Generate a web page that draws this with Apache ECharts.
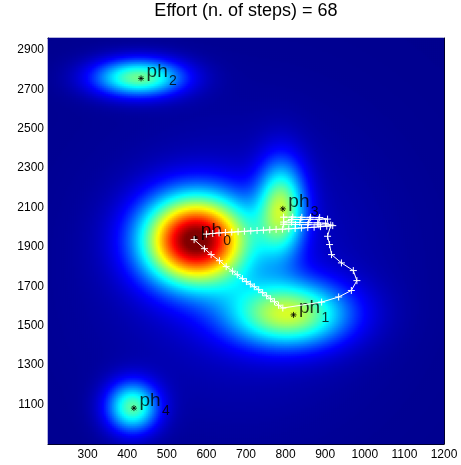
<!DOCTYPE html>
<html>
<head>
<meta charset="UTF-8">
<title>Effort</title>
<style>
body{margin:0;background:#fff;}
#picContainer{width:461px;height:465px;}
</style>
</head>
<body>
<div id="picContainer"></div>
<script src="https://cdn.jsdelivr.net/npm/echarts@6/dist/echarts.min.js"></script>
<script>
// source positions (the * markers)
var phNames = ['0', '1', '2', '3', '4'];
var phX = [572, 820, 435, 793, 417];
var phY = [1945, 1555, 2755, 2093, 1082];

// intensity bumps (centre, peak level, spread)
// the last one is the faint wide glow under the middle of the map
var peakX = [573, 808, 430, 790, 414, 683];
var peakY = [1935, 1560, 2760, 2100, 1088, 1785];
var peakLevel = [0.97, 0.52, 0.48, 0.48, 0.45, 0.08];
var spreadX = [93, 106, 80, 42, 46, 228];
var spreadY = [158, 116, 66, 165, 90, 458];

// walked path, one point per step
var pathX = [600, 616, 632, 648, 664, 680, 696, 712, 728, 744, 760, 776, 792, 808, 824, 840, 856, 872, 888, 904, 919,
    901, 881, 858, 836, 815, 795,
    815, 838, 861, 884, 906,
    886, 863, 841, 818, 795,
    795, 825, 856, 884, 914,
    906, 911, 916, 941, 971, 980, 966, 934, 891,
    793, 782, 772, 762, 752, 742, 732, 721, 711, 701, 691, 678, 666, 650, 633, 612, 595, 569];
var pathY = [1965, 1968, 1971, 1973, 1975, 1977, 1979, 1981, 1983, 1985, 1987, 1989, 1990, 1992, 1994, 1996, 1998, 2000, 2003, 2005, 2008,
    2020, 2022, 2023, 2024, 2025, 2026,
    2039, 2039, 2040, 2040, 2041,
    2049, 2050, 2050, 2051, 2051,
    2015, 2014, 2013, 2012, 2011,
    1954, 1912, 1861, 1819, 1780, 1729, 1679, 1646, 1620,
    1590, 1604, 1622, 1637, 1652, 1668, 1683, 1698, 1711, 1724, 1739, 1759, 1777, 1800, 1830, 1861, 1891, 1937];

var xTicks = [300, 400, 500, 600, 700, 800, 900, 1000, 1100, 1200];
var yTicks = [1100, 1300, 1500, 1700, 1900, 2100, 2300, 2500, 2700, 2900];
var xRange = [200, 1200];
var yRange = [900, 2960];

main();

function main(){
    drawPic();
}

function field(x, y){
    var v = 0;
    for (var k = 0; k < peakX.length; k++) {
        var dx = (x - peakX[k]) / spreadX[k];
        var dy = (y - peakY[k]) / spreadY[k];
        v += peakLevel[k] * Math.exp(-0.5 * (dx * dx + dy * dy));
    }
    return v;
}

function drawPic(){
    // 2px cells so the heatmap has no seams
    var nx = 198, ny = 203;
    var xCells = [], yCells = [], heat = [];
    for (var i = 0; i < nx; i++) xCells.push(i);
    for (var j = 0; j < ny; j++) yCells.push(j);
    for (var i = 0; i < nx; i++) {
        var x = xRange[0] + (i + 0.5) * (xRange[1] - xRange[0]) / nx;
        for (var j = 0; j < ny; j++) {
            var y = yRange[0] + (j + 0.5) * (yRange[1] - yRange[0]) / ny;
            heat.push([i, j, field(x, y)]);
        }
    }

    var path = [];
    for (var i = 0; i < pathX.length; i++) path.push([pathX[i], pathY[i]]);
    var stars = [];
    for (var i = 0; i < phX.length; i++) stars.push({name: phNames[i], value: [phX[i], phY[i]]});

    var font = 'Liberation Sans, Arial, Helvetica, sans-serif';
    var gridBox = {left: 48, top: 38, width: 396, height: 406};
    var tick = {show: true, inside: true, length: 4, lineStyle: {color: '#000', width: 1}};
    var line = {show: true, onZero: false, lineStyle: {color: '#000', width: 1}};
    var plain = function (v) { return String(v); };

    var myChart = echarts.init(document.getElementById('picContainer'));
    var option = {
        animation: false,
        backgroundColor: '#fff',
        title: {
            text: 'Effort (n. of steps) = ' + (pathX.length - 1),
            left: 246,
            top: 2,
            padding: 0,
            textAlign: 'center',
            textStyle: {fontFamily: font, fontSize: 18, fontWeight: 'normal', color: '#000'}
        },
        grid: [
            Object.assign({}, gridBox),
            Object.assign({}, gridBox)
        ],
        xAxis: [
            {gridIndex: 0, type: 'category', data: xCells, show: false},
            {gridIndex: 1, type: 'value', min: xRange[0], max: xRange[1], position: 'bottom',
                axisLine: line, splitLine: {show: false},
                axisTick: Object.assign({customValues: xTicks}, tick),
                axisLabel: {customValues: xTicks, formatter: plain, margin: 5, fontFamily: font, fontSize: 12, color: '#000'}},
            {gridIndex: 1, type: 'value', min: xRange[0], max: xRange[1], position: 'top',
                axisLine: line, splitLine: {show: false},
                axisTick: Object.assign({customValues: xTicks}, tick),
                axisLabel: {show: false}}
        ],
        yAxis: [
            {gridIndex: 0, type: 'category', data: yCells, show: false},
            {gridIndex: 1, type: 'value', min: yRange[0], max: yRange[1], position: 'left',
                axisLine: line, splitLine: {show: false},
                axisTick: Object.assign({customValues: yTicks}, tick),
                axisLabel: {customValues: yTicks, formatter: plain, margin: 4, fontFamily: font, fontSize: 12, color: '#000'}},
            {gridIndex: 1, type: 'value', min: yRange[0], max: yRange[1], position: 'right',
                axisLine: line, splitLine: {show: false},
                axisTick: Object.assign({customValues: yTicks}, tick),
                axisLabel: {show: false}}
        ],
        visualMap: {
            show: false,
            seriesIndex: 0,
            dimension: 2,
            min: 0,
            max: 1,
            inRange: {
                color: ['#00008f', '#0000ff', '#0080ff', '#00ffff', '#80ff80',
                        '#ffff00', '#ff8000', '#ff0000', '#800000']
            }
        },
        series: [
            {
                type: 'heatmap',
                xAxisIndex: 0,
                yAxisIndex: 0,
                data: heat,
                progressive: 0,
                silent: true,
                z: 1
            },
            {
                // stars with the "ph" part of the label
                type: 'scatter',
                xAxisIndex: 1,
                yAxisIndex: 1,
                data: stars,
                symbol: 'path://M5 0L5 10M0 5L10 5M1.5 1.5L8.5 8.5M8.5 1.5L1.5 8.5',
                symbolSize: 6,
                itemStyle: {color: 'rgba(0,0,0,0)', borderColor: '#000', borderWidth: 1},
                label: {
                    show: true,
                    position: 'right',
                    distance: 2,
                    offset: [0, -7],
                    formatter: 'ph',
                    fontFamily: font,
                    fontSize: 19,
                    color: '#000'
                },
                silent: true,
                z: 2
            },
            {
                // subscripts
                type: 'scatter',
                xAxisIndex: 1,
                yAxisIndex: 1,
                data: stars,
                symbol: 'circle',
                symbolSize: 6,
                itemStyle: {color: 'rgba(0,0,0,0)'},
                label: {
                    show: true,
                    position: 'right',
                    distance: 2,
                    offset: [23, 3],
                    formatter: '{b}',
                    fontFamily: font,
                    fontSize: 14,
                    color: '#000'
                },
                silent: true,
                z: 2
            },
            {
                name: 'path',
                type: 'line',
                xAxisIndex: 1,
                yAxisIndex: 1,
                data: path,
                symbol: 'path://M0 5L10 5M5 0L5 10',
                symbolSize: 7,
                showAllSymbol: true,
                lineStyle: {color: '#fff', width: 1},
                itemStyle: {color: 'rgba(0,0,0,0)', borderColor: '#fff', borderWidth: 1},
                silent: true,
                z: 3
            }
        ]
    };
    myChart.setOption(option);
}
</script>
</body>
</html>
